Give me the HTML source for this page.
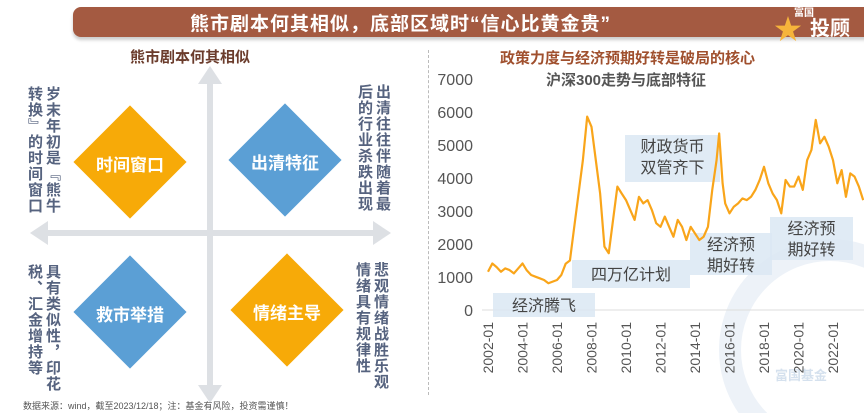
<!DOCTYPE html>
<html><head><meta charset="utf-8"><style>
html,body{margin:0;width:864px;height:413px;overflow:hidden}
body{background:#fff;font-family:"Liberation Sans","Noto Sans CJK SC",sans-serif;position:relative}
.abs{position:absolute}
.vt{position:absolute;writing-mode:vertical-rl;font-size:15px;color:#56637f;line-height:18px;letter-spacing:1px;font-weight:bold}
.dia{position:absolute;width:80px;height:80px;transform:rotate(45deg)}
.dl{position:absolute;color:#fff;font-size:17px;font-weight:bold;width:120px;text-align:center}
</style></head><body>
<div class="abs" style="left:73px;top:7px;width:800px;height:30px;background:#a45a41;border-radius:8px 0 0 8px;box-shadow:0 3px 3px #ccc"></div>
<div class="abs" style="left:190px;top:9px;color:#fff;font-size:19px;font-weight:bold;letter-spacing:1px">熊市剧本何其相似，底部区域时“信心比黄金贵”</div>
<div class="abs" style="left:770px;top:4px;width:90px;height:32px;color:#fff;font-weight:bold;font-size:20px"><span style="font-size:10px;position:absolute;left:24px;top:0">富国</span><span style="position:absolute;left:4px;top:4px;color:#f6b43b;font-size:28px">★</span><span style="position:absolute;left:40px;top:8px">投顾</span></div>

<div class="abs" style="left:130px;top:46px;color:#6b3c2c;font-size:15px;font-weight:bold">熊市剧本何其相似</div>
<svg class="abs" style="left:0;top:0" width="430" height="413">
<line x1="210" y1="80" x2="210" y2="388" stroke="#dde0e4" stroke-width="6"/>
<polygon points="198,84 210,66 222,84" fill="#dde0e4"/><polygon points="198,385 210,403 222,385" fill="#dde0e4"/>
<line x1="44" y1="233" x2="378" y2="233" stroke="#dde0e4" stroke-width="6"/>
<polygon points="48,221 30,233 48,245" fill="#dde0e4"/><polygon points="373,221 391,233 373,245" fill="#dde0e4"/>
</svg>
<div class="dia" style="left:90px;top:122px;background:#f7aa08"></div>
<div class="dl" style="left:70px;top:151px">时间窗口</div>
<div class="dia" style="left:245px;top:120px;background:#5b9fd5"></div>
<div class="dl" style="left:225px;top:149px">出清特征</div>
<div class="dia" style="left:90px;top:272px;background:#5b9fd5"></div>
<div class="dl" style="left:70px;top:301px">救市举措</div>
<div class="dia" style="left:247px;top:270px;background:#f7aa08"></div>
<div class="dl" style="left:227px;top:299px">情绪主导</div>
<div class="vt" style="left:25px;top:86px;height:130px">岁末年初是『熊牛转换』的时间窗口</div>
<div class="vt" style="left:355px;top:84px;height:130px">出清往往伴随着最后的行业杀跌出现</div>
<div class="vt" style="left:25px;top:264px;height:128px">具有类似性，印花税、汇金增持等</div>
<div class="vt" style="left:353px;top:262px;height:128px">悲观情绪战胜乐观情绪具有规律性</div>
<div class="abs" style="left:23px;top:399px;font-size:9px;color:#555">数据来源：wind，截至2023/12/18；注：基金有风险，投资需谨慎！</div>
<div class="abs" style="left:428px;top:50px;height:345px;border-left:1px dashed #bbb"></div>

<div class="abs" style="left:500px;top:47px;color:#a0502e;font-size:15px;font-weight:bold">政策力度与经济预期好转是破局的核心</div>
<div class="abs" style="left:546px;top:69px;color:#555;font-size:15px;font-weight:bold">沪深300走势与底部特征</div>

<svg id="chart" class="abs" style="left:0;top:0" width="864" height="413">
<circle cx="830" cy="350" r="100" fill="none" stroke="#e6edf5" stroke-width="22" opacity="0.7"/>
<text x="775" y="380" font-size="13" fill="#d5e1ee" font-weight="bold">富国基金</text>
</svg>
<script>
const years=[2002,2004,2006,2008,2010,2012,2014,2016,2018,2020,2022];
const yTicks=[0,1000,2000,3000,4000,5000,6000,7000];
const dates=[2002,2002.25,2002.5,2002.75,2003,2003.25,2003.5,2003.75,2004,2004.25,2004.5,2004.75,2005,2005.25,2005.5,2005.75,2006,2006.25,2006.5,2006.75,2007,2007.25,2007.5,2007.75,2008,2008.25,2008.5,2008.75,2009,2009.25,2009.5,2009.75,2010,2010.25,2010.5,2010.75,2011,2011.25,2011.5,2011.75,2012,2012.25,2012.5,2012.75,2013,2013.25,2013.5,2013.75,2014,2014.25,2014.5,2014.75,2015,2015.25,2015.4,2015.6,2015.75,2016,2016.25,2016.5,2016.75,2017,2017.25,2017.5,2017.75,2018,2018.25,2018.5,2018.75,2019,2019.25,2019.5,2019.75,2020,2020.25,2020.5,2020.75,2021,2021.25,2021.5,2021.75,2022,2022.25,2022.5,2022.75,2023,2023.25,2023.5,2023.75];
const values=[1160,1410,1300,1160,1260,1210,1110,1260,1410,1200,1060,1010,960,910,810,860,910,1060,1400,1500,2520,3530,4540,5860,5550,4540,3530,1920,1720,2730,3740,3530,3330,3030,2730,3430,3230,3330,3030,2630,2520,2830,2520,2220,2730,2520,2120,2520,2320,2120,2220,2520,3640,4540,5350,3840,3230,2930,3130,3230,3380,3330,3430,3640,3940,4340,3840,3530,3330,2930,3940,3740,3740,4040,3640,4540,4850,5760,5050,5250,4950,4540,3840,4240,3430,4140,4040,3740,3330];
const annotations=[["经济腾飞"],["四万亿计划"],["财政货币","双管齐下"],["经济预","期好转"],["经济预","期好转"]];
const X=d=>488+(d-2002)*17.25;
const Y=v=>310-v*0.033;
const svg=document.getElementById('chart');const NS='http://www.w3.org/2000/svg';
function mk(t,a,txt){const e=document.createElementNS(NS,t);for(const k in a)e.setAttribute(k,a[k]);if(txt!==undefined)e.textContent=txt;svg.appendChild(e);return e;}
const base=mk('line',{x1:482,x2:864,y1:Y(0),y2:Y(0),stroke:'#ddd'});


yTicks.forEach(v=>{const t=mk('text',{x:473,y:Y(v)+6,'text-anchor':'end','font-size':16,fill:'#555'},String(v));

});
years.forEach(y=>{const x=X(y)+5,t=mk('text',{x:x,y:322,'text-anchor':'end','font-size':14,fill:'#555',transform:`rotate(-90 ${x} 322)`},y+'-01');

});
const boxes=[[493,293,102,24],[572,260,118,28],[625,135,95,47],[690,233,82,42],[770,217,83,43]];
annotations.forEach((lines,i)=>{const b=boxes[i];const r=mk('rect',{x:b[0],y:b[1],width:b[2],height:b[3],fill:'#dbe7f3',opacity:0.85});


lines.forEach((s,j)=>{const t=mk('text',{x:b[0]+b[2]/2,y:b[1]+(lines.length==1?b[3]/2+6:17+j*21),'text-anchor':'middle','font-size':16,fill:'#444'},s);

});});
const p=mk('polyline',{points:dates.map((d,i)=>X(d)+','+Y(values[i])).join(' '),fill:'none',stroke:'#f9a51a','stroke-width':2.2,'stroke-linejoin':'round'});


</script>
</body></html>
